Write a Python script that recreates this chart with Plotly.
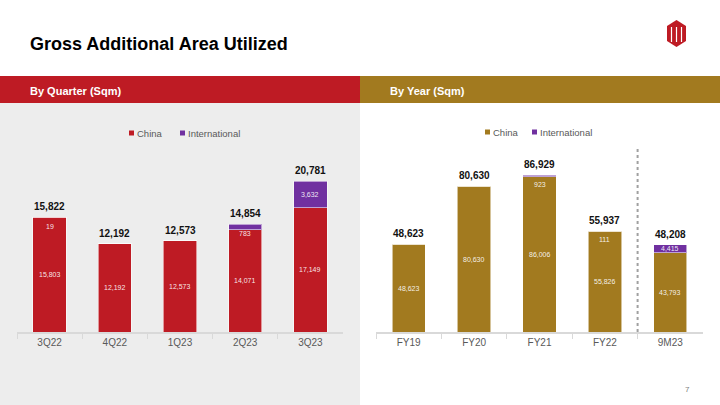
import plotly.graph_objects as go

# ---------------- data ----------------
quarters = ["3Q22", "4Q22", "1Q23", "2Q23", "3Q23"]
q_china = [15803, 12192, 12573, 14071, 17149]
q_intl = [19, 0, 0, 783, 3632]
q_total = [15822, 12192, 12573, 14854, 20781]

years = ["FY19", "FY20", "FY21", "FY22", "9M23"]
y_china = [48623, 80630, 86006, 55826, 43793]
y_intl = [0, 0, 923, 111, 4415]
y_total = [48623, 80630, 86929, 55937, 48208]

RED = "#BE1B24"
GOLD = "#A27A1F"
PURPLE = "#7030A0"
W, H = 720, 405
FONT = "Liberation Sans, Arial, sans-serif"


def px(x):
    return x / W


def py(y):
    return 1 - y / H


fig = go.Figure()
outline = dict(color="rgba(255,255,255,0.55)", width=1)
fig.add_bar(x=quarters, y=q_china, marker=dict(color=RED, line=outline),
            xaxis="x", yaxis="y", showlegend=False, name="China")
fig.add_bar(x=quarters, y=q_intl, marker=dict(color=PURPLE, line=outline),
            xaxis="x", yaxis="y", showlegend=False, name="International")
fig.add_bar(x=years, y=y_china, marker=dict(color=GOLD, line=outline),
            xaxis="x2", yaxis="y2", showlegend=False, name="China")
fig.add_bar(x=years, y=y_intl, marker=dict(color=PURPLE, line=outline),
            xaxis="x2", yaxis="y2", showlegend=False, name="International")

ann = []
seg_font = dict(family=FONT, size=7, color="rgba(255,255,255,0.9)")
tot_font = dict(family=FONT, size=10, color="#111111")


def add_labels(cats, china, intl, total, xr, yr, small_limit):
    for c, ch, it, tt in zip(cats, china, intl, total):
        ann.append(dict(x=c, y=tt, xref=xr, yref=yr, text=f"<b>{tt:,}</b>",
                        showarrow=False, yanchor="bottom", yshift=3, font=tot_font))
        ann.append(dict(x=c, y=ch / 2, xref=xr, yref=yr, text=f"{ch:,}",
                        showarrow=False, yanchor="middle", font=seg_font))
        if it > 0:
            if it > small_limit:
                ann.append(dict(x=c, y=ch + it / 2, xref=xr, yref=yr, text=f"{it:,}",
                                showarrow=False, yanchor="middle", font=seg_font))
            else:
                ann.append(dict(x=c, y=tt, xref=xr, yref=yr, text=f"{it:,}",
                                showarrow=False, yanchor="middle", yshift=-9,
                                font=seg_font))


add_labels(quarters, q_china, q_intl, q_total, "x", "y", 2000)
add_labels(years, y_china, y_intl, y_total, "x2", "y2", 2000)

# title & headers
ann.append(dict(x=px(28), y=py(44), xref="paper", yref="paper", xanchor="left",
                yanchor="middle", showarrow=False, text="<b>Gross Additional Area Utilized</b>",
                font=dict(family=FONT, size=18, color="#000000")))
ann.append(dict(x=px(28), y=py(91), xref="paper", yref="paper", xanchor="left",
                yanchor="middle", showarrow=False, text="<b>By Quarter (Sqm)</b>",
                font=dict(family=FONT, size=11, color="#FFFFFF")))
ann.append(dict(x=px(388), y=py(91), xref="paper", yref="paper", xanchor="left",
                yanchor="middle", showarrow=False, text="<b>By Year (Sqm)</b>",
                font=dict(family=FONT, size=11, color="#FFFFFF")))
ann.append(dict(x=px(692), y=py(389), xref="paper", yref="paper", xanchor="right",
                yanchor="middle", showarrow=False, text="7",
                font=dict(family=FONT, size=8, color="#808080")))

# legends (drawn manually)
leg_font = dict(family=FONT, size=9.5, color="#595959")
shapes = []


def legend_item(x_sq, y, color, label):
    shapes.append(dict(type="rect", xref="paper", yref="paper", x0=px(x_sq), x1=px(x_sq + 5),
                       y0=py(y + 2.5), y1=py(y - 2.5), fillcolor=color, line=dict(width=0)))
    ann.append(dict(x=px(x_sq + 6), y=py(y), xref="paper", yref="paper", xanchor="left",
                    yanchor="middle", showarrow=False, text=label, font=leg_font))


legend_item(129, 133, RED, "China")
legend_item(180, 133, PURPLE, "International")
legend_item(485, 132, GOLD, "China")
legend_item(532, 132, PURPLE, "International")

# backgrounds
shapes = [
    dict(type="rect", xref="paper", yref="paper", x0=0, x1=px(360), y0=0, y1=py(103),
         fillcolor="#EDEDED", line=dict(width=0), layer="below"),
    dict(type="rect", xref="paper", yref="paper", x0=0, x1=px(360), y0=py(103), y1=py(76),
         fillcolor=RED, line=dict(width=0), layer="below"),
    dict(type="rect", xref="paper", yref="paper", x0=px(360), x1=1, y0=py(103), y1=py(76),
         fillcolor=GOLD, line=dict(width=0), layer="below"),
    # dotted separator between FY22 and 9M23
    dict(type="line", xref="x2", yref="paper", x0=3.5, x1=3.5, y0=py(332), y1=py(148),
         line=dict(color="#A0A0A0", width=2, dash="dot")),
    # logo (approximation)
    dict(type="path", xref="paper", yref="paper",
         path=f"M {px(676.5)} {py(20)} L {px(686)} {py(26)} L {px(686)} {py(41)} "
              f"L {px(676.5)} {py(47)} L {px(667)} {py(41)} L {px(667)} {py(26)} Z",
         fillcolor=RED, line=dict(width=0)),
] + shapes
for xx in [671.5, 676.5, 681.5]:
    shapes.append(dict(type="line", xref="paper", yref="paper", x0=px(xx), x1=px(xx),
                       y0=py(42), y1=py(27), line=dict(color="white", width=1.2)))

axis_common = dict(showgrid=False, zeroline=False, showline=True, linecolor="#D9D9D9",
                   linewidth=1.5, ticks="outside", ticklen=5, tickcolor="#D9D9D9",
                   tickson="boundaries", tickfont=dict(family=FONT, size=10, color="#595959"),
                   fixedrange=True)
yaxis_common = dict(visible=False, showgrid=False, zeroline=False, fixedrange=True)

fig.update_layout(
    width=W, height=H, margin=dict(l=0, r=0, t=0, b=0),
    paper_bgcolor="#FFFFFF", plot_bgcolor="rgba(0,0,0,0)",
    barmode="stack", bargap=0.49,
    xaxis=dict(domain=[px(17), px(343)], anchor="y", **axis_common),
    yaxis=dict(domain=[py(332), py(150)], range=[0, 25103], anchor="x", **yaxis_common),
    xaxis2=dict(domain=[px(376), px(703)], anchor="y2", **axis_common),
    yaxis2=dict(domain=[py(332), py(150)], range=[0, 100775], anchor="x2", **yaxis_common),
    annotations=ann, shapes=shapes, showlegend=False,
)

fig.write_html("out.html", config={"displayModeBar": False},
               post_script="document.body.style.margin='0';document.body.style.padding='0';")
